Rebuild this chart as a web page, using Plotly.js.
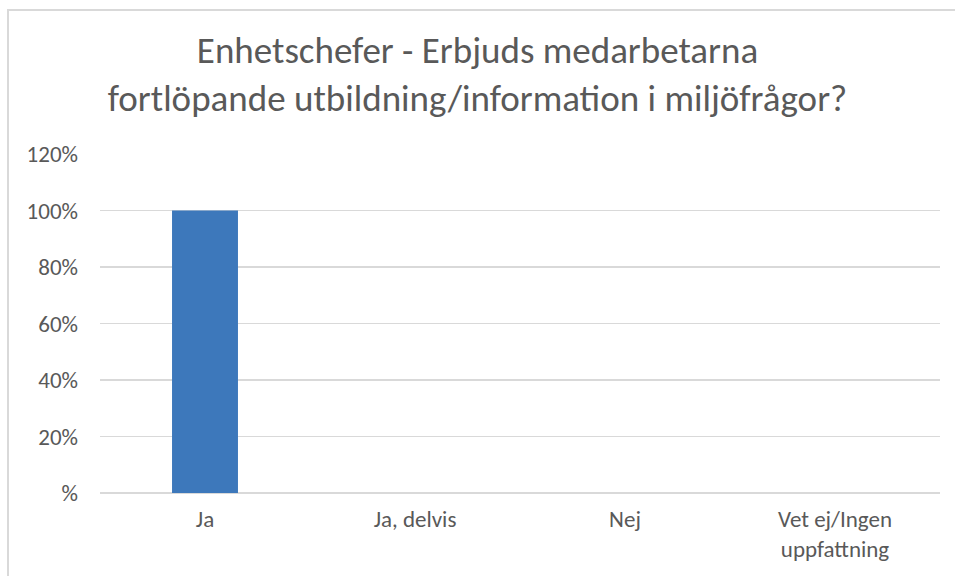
<!DOCTYPE html>
<html>
<head>
<meta charset="utf-8">
<script src="https://cdn.plot.ly/plotly-3.0.1.min.js"></script>
<style>
  html, body { margin: 0; padding: 0; background: #fff; }
  #frame { position: absolute; left: 7px; top: 9px; width: 1000px; height: 700px; border: 2px solid #d9d9d9; box-sizing: border-box; }
  #chart { position: absolute; left: 0; top: 0; width: 955px; height: 576px; }
</style>
</head>
<body>
<div id="frame"></div>
<div id="chart"></div>
<script>
const categories = ["Ja", "Ja, delvis", "Nej", "Vet ej/Ingen<br>uppfattning"];
const values = [1.0, 0, 0, 0];
const tickValues = [0, 0.2, 0.4, 0.6, 0.8, 1.0, 1.2];
const tickLabels = ["%", "20%", "40%", "60%", "80%", "100%", "120%"];
const titleText = "Enhetschefer - Erbjuds medarbetarna<br>fortlöpande utbildning/information i miljöfrågor?";

const font = "Calibri, Carlito, 'Liberation Sans', 'Open Sans', sans-serif";

Plotly.newPlot("chart", [{
  type: "bar",
  x: categories,
  y: values,
  marker: { color: "#3d78bb" },
  hoverinfo: "none"
}], {
  width: 955, height: 576,
  paper_bgcolor: "rgba(0,0,0,0)",
  plot_bgcolor: "rgba(0,0,0,0)",
  margin: { l: 100, r: 15, t: 154, b: 83 },
  bargap: 0.686,
  showlegend: false,
  title: {
    text: titleText,
    font: { family: font, size: 37, color: "#595959" },
    x: 0.5, xanchor: "center",
    y: 0.89, yanchor: "middle"
  },
  xaxis: {
    tickfont: { family: font, size: 23, color: "#595959" },
    showline: false, showgrid: false, zeroline: false, ticks: "",
    ticklabelstandoff: 10
  },
  yaxis: {
    range: [0, 1.2],
    tickvals: tickValues,
    ticktext: tickLabels,
    tickfont: { family: font, size: 23, color: "#595959" },
    showgrid: true, gridcolor: "#d9d9d9", gridwidth: 1.5,
    zeroline: true, zerolinecolor: "#d9d9d9", zerolinewidth: 1.5,
    showline: false, ticks: "", ticklen: 0,
    ticklabelstandoff: 21
  }
}, { staticPlot: true });
</script>
</body>
</html>
